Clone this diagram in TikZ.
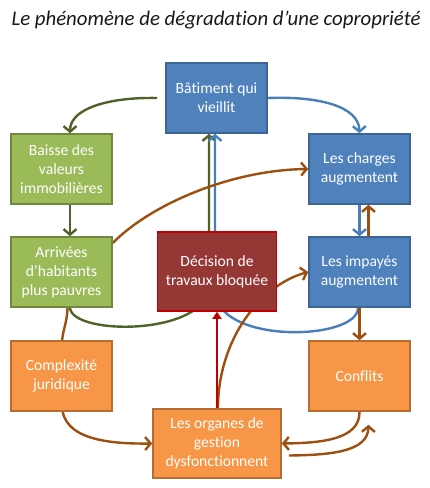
\documentclass[tikz,border=0pt]{standalone}
\usepackage{fontspec}
\setmainfont{Carlito}[Ligatures=NoCommon]
\usetikzlibrary{arrows.meta}
\pgfdeclarelayer{bg}
\pgfsetlayers{bg,main}
\definecolor{bfill}{HTML}{4F81BD}
\definecolor{bdraw}{HTML}{3C6594}
\definecolor{gfill}{HTML}{9BBB59}
\definecolor{gdraw}{HTML}{71893F}
\definecolor{ofill}{HTML}{F79646}
\definecolor{odraw}{HTML}{B66D31}
\definecolor{rfill}{HTML}{953735}
\definecolor{rdraw}{HTML}{C00000}
\definecolor{gline}{HTML}{4F6228}
\definecolor{bline}{HTML}{4A7EBB}
\definecolor{oline}{HTML}{9C4F0E}
\begin{document}
\begin{tikzpicture}[x=1pt,y=-1pt,
  box/.style={draw, line width=1.6pt, minimum width=101pt, minimum height=70pt, inner sep=1pt,
    align=center, text=white, font=\fontsize{15.6}{19}\selectfont},
  bluebox/.style={box, fill=bfill, draw=bdraw},
  greenbox/.style={box, fill=gfill, draw=gdraw},
  orangebox/.style={box, fill=ofill, draw=odraw},
  redbox/.style={box, fill=rfill, draw=rdraw},
  conn/.style={line width=2.4pt, -{Straight Barb[length=5.5pt,width=13pt]}},
  gconn/.style={conn, draw=gline},
  bconn/.style={conn, draw=bline},
  oconn/.style={conn, draw=oline}
]
\useasboundingbox (0,0) rectangle (430,488);
\node[anchor=base, font=\fontsize{20.8}{25}\selectfont\itshape, text=black!90] (title) at (216,25) {Le phénomène de dégradation d’une copropriété};

\node[bluebox] (bat) at (216.5,98) {Bâtiment qui\\vieillit};
\node[greenbox] (bai) at (61.5,169) {Baisse des\\valeurs\\immobilières};
\node[bluebox] (cha) at (359.5,169) {Les charges\\augmentent};
\node[greenbox] (arr) at (61.5,272) {Arrivées\\d’habitants\\plus pauvres};
\node[redbox, minimum width=119pt, minimum height=79pt] (dec) at (217,271.5) {Décision de\\travaux bloquée};
\node[bluebox] (imp) at (359.5,272) {Les impayés\\augmentent};
\node[orangebox] (com) at (61.5,376) {Complexité\\juridique};
\node[orangebox] (con) at (359.5,376) {Conflits};
\node[orangebox, minimum width=128pt, minimum height=69pt] (org) at (217,443.5) {Les organes de\\gestion\\dysfonctionnent};
\coordinate (cf) at ([xshift=9pt,yshift=-13pt]con.south);

\begin{pgfonlayer}{bg}
% green
\draw[gconn] ([xshift=-8pt]bat.west) .. controls (110,97) and (70,108) .. ([xshift=8.5pt]bai.north);
\draw[gconn] ([xshift=8.5pt]bai.south) -- ([xshift=8.5pt]arr.north);
\draw[gconn] ([xshift=8.5pt]arr.south) .. controls (72,336) and (209,336) .. (209,285) -- ([xshift=-7.5pt]bat.south);
% blue
\draw[bconn] (bat.east) .. controls (318,96) and (359,106) .. (cha.north);
\draw[bconn] (cha.south) -- (imp.north);
\draw[bconn] ([xshift=-1.5pt]imp.south) .. controls (358,341) and (215,345) .. (215,290) -- ([xshift=-1.5pt]bat.south);
% brown
\draw[oconn] ([yshift=29pt]arr.east) .. controls (150,205) and (230,170) .. (cha.west);
\draw[oconn] ([xshift=9pt]imp.north) -- ([xshift=9pt]cha.south);
\draw[oconn] ([xshift=1pt]org.north) .. controls (218,340) and (260,285) .. (imp.west);
\draw[oconn] (imp.south) -- (con.north);
\draw[oconn] ([xshift=6pt]arr.south) .. controls (67,325) and (62,330) .. (62,345) -- (62,405) .. controls (62,440) and (110,444) .. (org.west);
\draw[oconn] (con.south) .. controls (360,440) and (320,443) .. (org.east);
\draw[oconn] ([xshift=7pt,yshift=-12pt]org.east) .. controls (330,455) and (368,452) .. (cf);
\end{pgfonlayer}
% red
\draw[draw=rdraw, line width=2.2pt, -{Triangle[length=7pt,width=9pt]}] (org.north) -- (dec.south);
\end{tikzpicture}
\end{document}
